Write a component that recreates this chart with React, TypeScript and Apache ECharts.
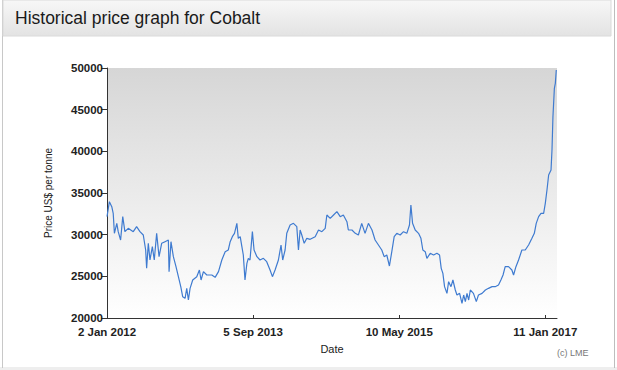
import React, { useEffect, useRef } from "react";
import * as echarts from "echarts";

// Days since 2 Jan 2012
const days = [
  0, 10, 20, 26, 31, 41, 47, 57, 66, 75, 89, 110, 124, 138, 152, 162, 166, 173, 180, 190,
  198, 208, 218, 229, 243, 257, 260, 268, 278, 289, 299, 309, 317, 327, 334, 341, 348, 359,
  376, 387, 394, 404, 418, 439, 453, 467, 481, 495, 508, 516, 525, 534, 544, 550, 558, 565,
  571, 578, 586, 592, 599, 609, 616, 628, 641, 655, 669, 683, 693, 704, 718, 729, 736, 746,
  753, 767, 781, 795, 802, 809, 816, 826, 837, 851, 872, 886, 900, 914, 921, 935, 949, 963,
  977, 990, 1005, 1011, 1026, 1040, 1053, 1067, 1081, 1095, 1110, 1123, 1137, 1151, 1161,
  1172, 1183, 1193, 1203, 1214, 1228, 1242, 1256, 1267, 1273, 1280, 1291, 1305, 1315, 1323,
  1333, 1340, 1354, 1368, 1382, 1393, 1400, 1407, 1414, 1424, 1431, 1441, 1449, 1459, 1466,
  1477, 1487, 1494, 1501, 1508, 1515, 1522, 1535, 1547, 1556, 1571, 1585, 1598, 1613, 1626,
  1640, 1650, 1659, 1668, 1682, 1696, 1703, 1713, 1724, 1738, 1752, 1766, 1780, 1790, 1798,
  1808, 1818, 1829, 1836, 1843, 1850, 1860, 1864, 1868, 1874, 1878, 1882,
];

// Price, US$ per tonne
const prices = [
  32160, 33960, 33360, 32560, 30160, 31360, 30360, 29360, 32160, 30360, 30760, 30360, 30960,
  30360, 29960, 28160, 25960, 28960, 26960, 28560, 26960, 30160, 27360, 28960, 29160, 29360,
  25560, 29160, 27360, 26160, 24960, 23760, 22560, 22360, 23560, 22160, 23560, 24560, 24960,
  25760, 24560, 25560, 25160, 25160, 24880, 25560, 26960, 27960, 28160, 29160, 29760, 30160,
  31360, 29560, 29760, 28560, 27560, 24560, 26560, 27160, 26960, 30360, 28160, 27360, 26960,
  27160, 26760, 25760, 24960, 25760, 26960, 28760, 26960, 28160, 30160, 31160, 31360, 30960,
  28160, 30560, 29960, 28960, 29560, 29440, 29760, 30560, 30360, 30760, 32360, 31960, 32360,
  32760, 32160, 32360, 31560, 30560, 30560, 30160, 29960, 31360, 30160, 31360, 30560, 29360,
  28760, 28160, 27360, 27560, 26240, 27960, 29760, 30160, 29960, 30360, 30160, 31160, 33560,
  31360, 30560, 30160, 29560, 28160, 27960, 27160, 27760, 27560, 27760, 27560, 25960, 25360,
  23760, 22960, 24360, 23760, 24560, 23360, 22760, 22960, 21760, 22760, 21960, 22960, 22160,
  23360, 22960, 21960, 22760, 22960, 23360, 23560, 23760, 23760, 23960, 24560, 25160, 26160,
  26160, 25760, 25160, 26160, 26960, 28160, 28160, 28760, 29560, 30160, 31360, 32160, 32560,
  32560, 33760, 35360, 37160, 37760, 40160, 44160, 47560, 48160, 49760,
];

const xTickDays = [0, 612, 1224, 1836];
const xTickLabels = ["2 Jan 2012", "5 Sep 2013", "10 May 2015", "11 Jan 2017"];
const yTicks = [20000, 25000, 30000, 35000, 40000, 45000, 50000];

const FONT = "'Liberation Sans', Arial, sans-serif";

export default function App() {
  const ref = useRef<HTMLDivElement>(null);
  useEffect(() => {
    if (!ref.current) return;
    const chart = echarts.init(ref.current, null, { renderer: "svg" });
    const data = days.map((d, i) => [d, prices[i]]);
    chart.setOption({
      animation: false,
      backgroundColor: "#ffffff",
      graphic: [
        { type: "rect", z: -10, shape: { x: 0, y: 367, width: 617, height: 3 }, style: { fill: "#eeeeee" } },
        { type: "line", shape: { x1: 2.5, y1: 0, x2: 2.5, y2: 368 }, style: { stroke: "#c8c8c8", lineWidth: 1 } },
        { type: "line", shape: { x1: 614.5, y1: 0, x2: 614.5, y2: 368 }, style: { stroke: "#bdbdbd", lineWidth: 1 } },
        {
          type: "rect",
          shape: { x: 3, y: 0, width: 608, height: 36 },
          style: {
            fill: {
              type: "linear", x: 0, y: 0, x2: 0, y2: 1,
              colorStops: [
                { offset: 0, color: "#f7f7f7" },
                { offset: 1, color: "#e3e3e3" },
              ],
            },
            stroke: "#dadada",
            lineWidth: 1,
          },
        },
        {
          type: "text",
          x: 15,
          y: 18,
          style: {
            text: "Historical price graph for Cobalt",
            font: `17.5px ${FONT}`,
            fill: "#1a1a1a",
            verticalAlign: "middle",
          },
        },
        {
          type: "text",
          x: 557,
          y: 353,
          style: {
            text: "(c) LME",
            font: `9px ${FONT}`,
            fill: "#777777",
            verticalAlign: "middle",
          },
        },
      ],
      grid: {
        left: 107,
        top: 68,
        right: 60,
        bottom: 52,
        show: true,
        borderWidth: 0,
        backgroundColor: {
          type: "linear", x: 0, y: 0, x2: 0, y2: 1,
          colorStops: [
            { offset: 0, color: "#d6d6d6" },
            { offset: 1, color: "#ffffff" },
          ],
        },
      },
      xAxis: {
        type: "value",
        min: 0,
        max: 1885,
        interval: 612,
        name: "Date",
        nameLocation: "middle",
        nameGap: 25,
        nameTextStyle: { fontFamily: FONT, fontSize: 11, color: "#222" },
        axisLine: { show: true, lineStyle: { color: "#333", width: 1 } },
        axisTick: { show: true, inside: true, length: 3, customValues: xTickDays, lineStyle: { color: "#333" } },
        splitLine: { show: false },
        axisLabel: {
          customValues: xTickDays,
          margin: 8,
          fontFamily: FONT,
          fontSize: 11.5,
          fontWeight: "bold",
          color: "#222",
          formatter: (v: number) => {
            const i = xTickDays.indexOf(Math.round(v));
            return i >= 0 ? xTickLabels[i] : "";
          },
        },
      },
      yAxis: {
        type: "value",
        min: 20000,
        max: 50000,
        interval: 5000,
        name: "Price US$ per tonne",
        nameLocation: "middle",
        nameGap: 54,
        nameTextStyle: { fontFamily: FONT, fontSize: 10, color: "#222" },
        axisLine: { show: true, lineStyle: { color: "#333", width: 1 } },
        axisTick: { show: true, length: 6, lineStyle: { color: "#333" } },
        splitLine: { show: false },
        axisLabel: {
          margin: 4,
          fontFamily: FONT,
          fontSize: 11.5,
          fontWeight: "bold",
          color: "#222",
          formatter: (v: number) => (yTicks.includes(v) ? String(v) : ""),
        },
      },
      series: [
        {
          type: "line",
          data,
          showSymbol: false,
          symbol: "none",
          lineStyle: { color: "#3f7bd0", width: 1.2 },
        },
      ],
    });
    return () => chart.dispose();
  }, []);
  return (
    <div
      ref={ref}
      style={{ position: "fixed", left: 0, top: 0, width: 617, height: 370 }}
    />
  );
}
